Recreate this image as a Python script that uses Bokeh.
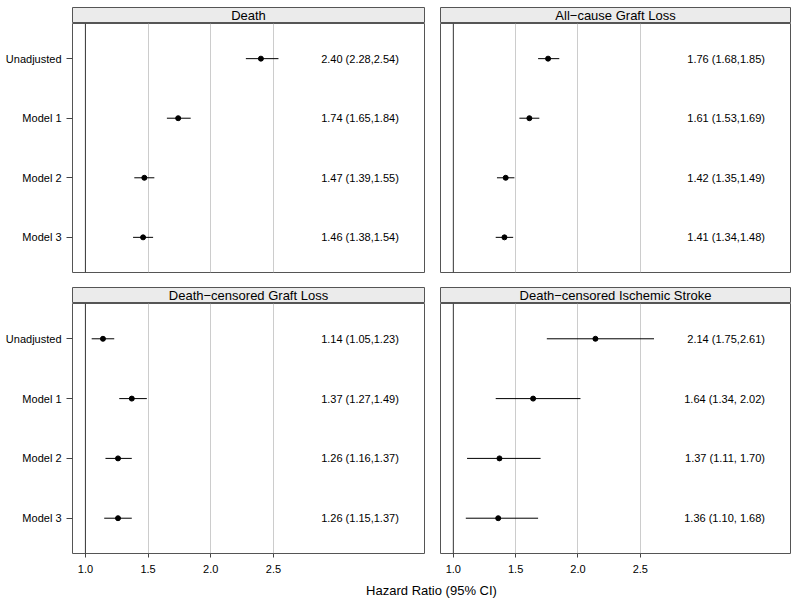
from bokeh.plotting import figure
from bokeh.layouts import gridplot, column
from bokeh.models import Range1d, FactorRange, FixedTicker, PrintfTickFormatter, Span
from bokeh.core.properties import value
from bokeh.embed import file_html
from bokeh.resources import INLINE

# ---------------- data ----------------
models = ["Unadjusted", "Model 1", "Model 2", "Model 3"]
panel_titles = ["Death", "All\u2212cause Graft Loss",
                "Death\u2212censored Graft Loss", "Death\u2212censored Ischemic Stroke"]

death_hr = [2.40, 1.74, 1.47, 1.46]
death_lo = [2.28, 1.65, 1.39, 1.38]
death_hi = [2.54, 1.84, 1.55, 1.54]
death_lbl = ["2.40 (2.28,2.54)", "1.74 (1.65,1.84)", "1.47 (1.39,1.55)", "1.46 (1.38,1.54)"]

graft_hr = [1.76, 1.61, 1.42, 1.41]
graft_lo = [1.68, 1.53, 1.35, 1.34]
graft_hi = [1.85, 1.69, 1.49, 1.48]
graft_lbl = ["1.76 (1.68,1.85)", "1.61 (1.53,1.69)", "1.42 (1.35,1.49)", "1.41 (1.34,1.48)"]

dcgl_hr = [1.14, 1.37, 1.26, 1.26]
dcgl_lo = [1.05, 1.27, 1.16, 1.15]
dcgl_hi = [1.23, 1.49, 1.37, 1.37]
dcgl_lbl = ["1.14 (1.05,1.23)", "1.37 (1.27,1.49)", "1.26 (1.16,1.37)", "1.26 (1.15,1.37)"]

stroke_hr = [2.14, 1.64, 1.37, 1.36]
stroke_lo = [1.75, 1.34, 1.11, 1.10]
stroke_hi = [2.61, 2.02, 1.70, 1.68]
stroke_lbl = ["2.14 (1.75,2.61)", "1.64 (1.34, 2.02)", "1.37 (1.11, 1.70)", "1.36 (1.10, 1.68)"]

x_ticks = [1.0, 1.5, 2.0, 2.5]
grid_ticks = [1.5, 2.0, 2.5]
ref_value = 1.0
label_x = 3.5
x_start, x_end = 0.897, 3.705

FONT = "Liberation Sans"
FRAME = "#555555"
STRIP = "#ebebeb"

panels = [
    (death_hr, death_lo, death_hi, death_lbl),
    (graft_hr, graft_lo, graft_hi, graft_lbl),
    (dcgl_hr, dcgl_lo, dcgl_hi, dcgl_lbl),
    (stroke_hr, stroke_lo, stroke_hi, stroke_lbl),
]

LEFT_W, RIGHT_W = 432, 360


def col_borders(col):
    if col == 0:
        return 72, 8
    return 8, 2


def make_strip(title, col, row):
    bl, br = col_borders(col)
    top = 7 if row == 0 else 0
    p = figure(width=LEFT_W if col == 0 else RIGHT_W, height=16 + top,
               x_range=Range1d(0, 1), y_range=Range1d(0, 1),
               x_axis_type=None, y_axis_type=None,
               output_backend="svg", toolbar_location=None,
               min_border_left=bl, min_border_right=br,
               min_border_top=top, min_border_bottom=0)
    p.background_fill_color = STRIP
    p.outline_line_color = FRAME
    p.outline_line_width = 1
    p.grid.visible = False
    p.text(x=[0.5], y=[0.5], text=[title], text_align="center", text_baseline="middle",
           text_font=value(FONT), text_font_size="13px", text_color="black")
    return p


def make_main(data, col, row):
    hr, lo, hi, lbl = data
    bl, br = col_borders(col)
    bottom = row == 1
    height = 250 + 26 if bottom else 249 + 15
    p = figure(width=LEFT_W if col == 0 else RIGHT_W, height=height,
               x_range=Range1d(x_start, x_end),
               y_range=FactorRange(factors=list(reversed(models)),
                                   range_padding=0.09, range_padding_units="absolute"),
               x_axis_location="below" if bottom else None,
               y_axis_location="left" if col == 0 else None,
               output_backend="svg", toolbar_location=None,
               min_border_left=bl, min_border_right=br,
               min_border_top=0, min_border_bottom=26 if bottom else 15)
    p.outline_line_color = FRAME
    p.outline_line_width = 1
    p.ygrid.visible = False
    p.xgrid.ticker = FixedTicker(ticks=grid_ticks)
    p.xgrid.grid_line_color = "#cccccc"
    p.xgrid.grid_line_width = 1

    if bottom:
        ax = p.xaxis[0]
        ax.ticker = FixedTicker(ticks=x_ticks)
        ax.formatter = PrintfTickFormatter(format="%.1f")
        ax.axis_line_color = None
        ax.major_tick_out = 4
        ax.major_tick_in = 0
        ax.minor_tick_line_color = None
        ax.major_tick_line_color = "#444444"
        ax.major_label_standoff = 7
        ax.major_label_text_font = FONT
        ax.major_label_text_font_size = "11px"
        ax.major_label_text_color = "black"
    if col == 0:
        ay = p.yaxis[0]
        ay.axis_line_color = None
        ay.major_tick_out = 6
        ay.major_tick_in = 0
        ay.minor_tick_line_color = None
        ay.major_tick_line_color = "#444444"
        ay.major_label_standoff = 5
        ay.major_label_text_font = FONT
        ay.major_label_text_font_size = "11px"
        ay.major_label_text_color = "black"

    p.add_layout(Span(location=ref_value, dimension="height", line_color="#333333", line_width=1))
    p.segment(x0=lo, y0=models, x1=hi, y1=models, line_color="black", line_width=1)
    p.scatter(x=hr, y=models, size=5, color="black")
    p.text(x=label_x, y=models, text=lbl, text_align="right", text_baseline="middle",
           text_font=value(FONT), text_font_size="11px", text_color="black")
    return p


rows = []
for r in range(2):
    strips, mains = [], []
    for c in range(2):
        i = r * 2 + c
        strips.append(make_strip(panel_titles[i], c, r))
        mains.append(make_main(panels[i], c, r))
    rows.append(strips)
    rows.append(mains)

grid = gridplot(rows, toolbar_location=None)

tfig = figure(width=LEFT_W + RIGHT_W, height=22,
              x_range=Range1d(0, 1), y_range=Range1d(0, 1),
              x_axis_type=None, y_axis_type=None,
              output_backend="svg", toolbar_location=None,
              min_border_left=72, min_border_right=2, min_border_top=0, min_border_bottom=0)
tfig.outline_line_color = None
tfig.grid.visible = False
tfig.text(x=[0.5], y=[0.5], text=["Hazard Ratio (95% CI)"], text_align="center",
          text_baseline="middle", text_font=value(FONT), text_font_size="13px", text_color="black")

layout = column(grid, tfig)
open("out.html", "w").write(file_html(layout, INLINE))
